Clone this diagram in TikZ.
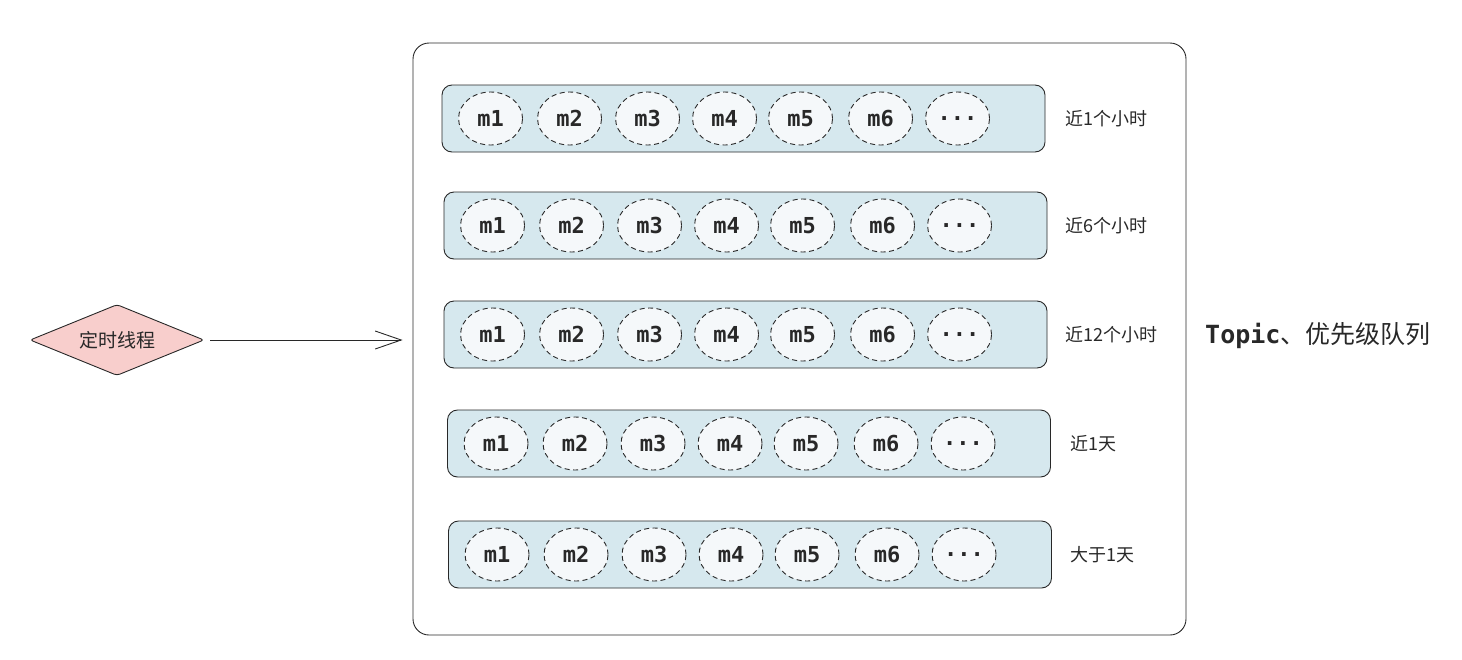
\documentclass[tikz,border=0pt]{standalone}
\usepackage{fontspec}
\setmonofont{DejaVu Sans Mono}
\newfontfamily\cjk{Noto Sans CJK SC}
\usetikzlibrary{shapes.geometric,arrows.meta}

\definecolor{qblue}{RGB}{214,232,238}
\definecolor{msgfill}{RGB}{245,248,250}
\definecolor{timerred}{RGB}{248,206,204}
\definecolor{ink}{RGB}{40,40,40}

\newcommand\msgdots{...}

\tikzset{
  queue/.style={draw=ink, fill=qblue, line width=0.9pt, rounded corners=10pt, minimum width=603pt, minimum height=67pt},
  msg/.style={ellipse, draw=ink, fill=msgfill, line width=0.9pt, dash pattern=on 5pt off 3.5pt, minimum width=64pt, minimum height=53pt, inner sep=0pt, text=ink, font=\fontsize{22}{22}\ttfamily\bfseries},
  tag/.style={anchor=west, inner sep=0pt, text=ink, font=\fontsize{18}{18}\cjk},
}

\begin{document}
\begin{tikzpicture}[x=1pt,y=-1pt]
    \useasboundingbox (0,0) rectangle (1462,659);

    % outer box
    \node[draw=ink, line width=0.9pt, rounded corners=16pt, minimum width=773pt, minimum height=592pt] (pq) at (799.5,339) {};
    \node[anchor=west, inner sep=0pt, text=ink, font=\fontsize{25}{25}\selectfont] (title) at (1205,336) {\texttt{\bfseries Topic}\cjk 、优先级队列};

    % timer thread
    \node[diamond, aspect=2.45, draw=ink, fill=timerred, line width=0.9pt, rounded corners=3pt, minimum width=174pt, minimum height=71pt, inner sep=0pt, text=ink, font=\fontsize{19}{19}\cjk] (timer) at (117,340) {定时线程};
    \draw[-{Straight Barb[length=26pt,width=18pt]}, draw=ink, line width=0.9pt, shorten <=6pt, shorten >=10pt] (timer.east) -- (pq.west |- timer.east);

    % queues
    \foreach \r/\x/\y/\lab/\lx in {1/743.5/118.5/近1个小时/1065, 2/745.5/225.5/近6个小时/1065, 3/745.5/334.5/近12个小时/1065, 4/749/443.5/近1天/1070, 5/750/554.5/大于1天/1070}{
        \node[queue] (q\r) at (\x,\y) {};
        \node[tag] (t\r) at (\lx,\y) {\lab};
        \foreach \i/\dx/\txt in {1/49/m1, 2/128/m2, 3/206/m3, 4/283/m4, 5/359/m5, 6/439/m6, 7/516/\msgdots}
            \node[msg] (q\r-\i) at ([xshift=\dx pt]q\r.west) {\txt};
    }
\end{tikzpicture}
\end{document}
